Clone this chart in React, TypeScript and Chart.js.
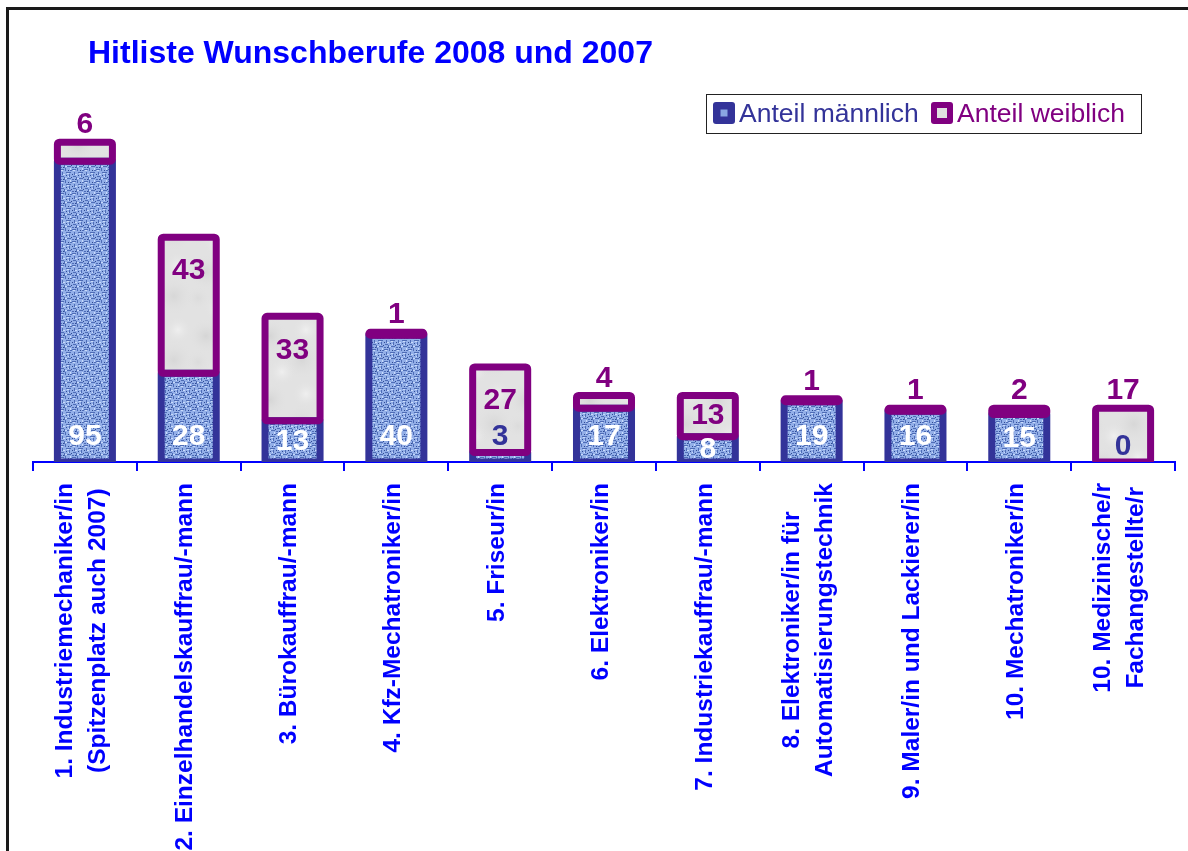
import React, { useEffect, useRef } from "react";
import { Chart, registerables } from "chart.js";

Chart.register(...registerables);

// ---------- data ----------
const chartTitle = "Hitliste Wunschberufe 2008 und 2007";
const seriesNames = ["Anteil männlich", "Anteil weiblich"];
const categories: (string | string[])[] = [
  ["1. Industriemechaniker/in", "(Spitzenplatz auch 2007)"],
  "2. Einzelhandelskauffrau/-mann",
  "3. Bürokauffrau/-mann",
  "4. Kfz-Mechatroniker/in",
  "5. Friseur/in",
  "6. Elektroniker/in",
  "7. Industriekauffrau/-mann",
  ["8. Elektroniker/in für", "Automatisierungstechnik"],
  "9. Maler/in und Lackierer/in",
  "10. Mechatroniker/in",
  ["10. Medizinische/r", "Fachangestellte/r"],
];
const maleValues = [95, 28, 13, 40, 3, 17, 8, 19, 16, 15, 0];
const femaleValues = [6, 43, 33, 1, 27, 4, 13, 1, 1, 2, 17];
const yMax = 120;

// ---------- styles ----------
const FONT = '"Liberation Sans", Arial, Helvetica, sans-serif';
const AXIS_BLUE = "#0000ff";
const MALE_DARK = "#333399";
const PURPLE = "#800080";
const BAR_BORDER = 7;

function makeMalePattern(): CanvasPattern | string {
  const c = document.createElement("canvas");
  c.width = 12;
  c.height = 12;
  const g = c.getContext("2d");
  if (!g) return "#8eaae6";
  g.fillStyle = "#93afe8";
  g.fillRect(0, 0, 12, 12);
  g.fillStyle = "#4e6cb6";
  g.fillRect(0, 1, 4, 1);
  g.fillRect(6, 4, 5, 1);
  g.fillRect(1, 8, 3, 1);
  g.fillRect(7, 10, 4, 1);
  g.fillRect(5, 0, 1, 3);
  g.fillRect(2, 4, 1, 3);
  g.fillRect(9, 6, 1, 3);
  g.fillRect(4, 9, 1, 3);
  g.fillRect(10, 2, 2, 1);
  g.fillRect(0, 11, 2, 1);
  g.fillStyle = "#c9dbfb";
  g.fillRect(1, 2, 2, 1);
  g.fillRect(7, 5, 2, 1);
  g.fillRect(10, 0, 1, 2);
  g.fillRect(5, 10, 2, 1);
  g.fillRect(3, 6, 2, 1);
  g.fillRect(8, 8, 1, 1);
  g.fillStyle = "#2f4a92";
  g.fillRect(8, 2, 1, 1);
  g.fillRect(0, 6, 1, 1);
  g.fillRect(6, 7, 1, 1);
  g.fillRect(11, 9, 1, 1);
  g.fillRect(3, 11, 1, 1);
  return g.createPattern(c, "repeat") || "#8eaae6";
}

function makeFemalePattern(): CanvasPattern | string {
  const c = document.createElement("canvas");
  c.width = 64;
  c.height = 64;
  const g = c.getContext("2d");
  if (!g) return "#e0e0e0";
  g.fillStyle = "#e2e2e2";
  g.fillRect(0, 0, 64, 64);
  const blobs: [number, number, number, string][] = [
    [14, 16, 18, "rgba(180,180,180,0.28)"],
    [46, 40, 20, "rgba(180,180,180,0.24)"],
    [26, 52, 14, "rgba(250,250,250,0.55)"],
    [50, 10, 14, "rgba(250,250,250,0.55)"],
    [6, 42, 12, "rgba(195,195,195,0.22)"],
  ];
  for (const [x, y, r, col] of blobs) {
    for (const dx of [-64, 0, 64]) {
      for (const dy of [-64, 0, 64]) {
        const grad = g.createRadialGradient(x + dx, y + dy, 0, x + dx, y + dy, r);
        grad.addColorStop(0, col);
        grad.addColorStop(1, "rgba(226,226,226,0)");
        g.fillStyle = grad;
        g.fillRect(0, 0, 64, 64);
      }
    }
  }
  return g.createPattern(c, "repeat") || "#e0e0e0";
}

const decorPlugin = {
  id: "decor",
  afterDatasetsDraw(chart: any) {
    const ctx: CanvasRenderingContext2D = chart.ctx;
    const area = chart.chartArea;
    const m0 = chart.getDatasetMeta(0);
    const m1 = chart.getDatasetMeta(1);
    ctx.save();
    ctx.beginPath();
    ctx.rect(0, 0, chart.width, area.bottom);
    ctx.clip();
    ctx.lineWidth = BAR_BORDER;
    ctx.lineJoin = "round";
    // male borders (centred on the bar edge)
    m0.data.forEach((el: any, i: number) => {
      if (maleValues[i] <= 0) return;
      const { x, y, base, width } = el.getProps(["x", "y", "base", "width"], true);
      ctx.strokeStyle = MALE_DARK;
      ctx.strokeRect(x - width / 2, y, width, base - y);
    });
    // female borders
    m1.data.forEach((el: any, i: number) => {
      if (femaleValues[i] <= 0) return;
      const { x, y, base, width } = el.getProps(["x", "y", "base", "width"], true);
      ctx.strokeStyle = PURPLE;
      ctx.beginPath();
      (ctx as any).roundRect(x - width / 2, y, width, base - y, 2);
      ctx.stroke();
    });
    ctx.restore();

    // value labels
    ctx.save();
    ctx.font = `bold 30px ${FONT}`;
    ctx.textAlign = "center";
    ctx.textBaseline = "middle";
    m0.data.forEach((el: any, i: number) => {
      const { x, y, base } = el.getProps(["x", "y", "base"], true);
      const v = maleValues[i];
      const ly = v === 0 ? base - 15 : v < 5 ? base - 25 : base - Math.min(25, (base - y) / 2);
      ctx.fillStyle = v < 5 ? MALE_DARK : "#ffffff";
      ctx.fillText(String(v), x, ly);
    });
    m1.data.forEach((el: any, i: number) => {
      const { x, y, base } = el.getProps(["x", "y", "base"], true);
      const inside = femaleValues[i] >= 10 && maleValues[i] > 0;
      const ly = inside ? y + Math.min(34, (base - y) / 2) : y - 17;
      ctx.fillStyle = PURPLE;
      ctx.fillText(String(femaleValues[i]), x, ly);
    });
    ctx.restore();
  },
  afterDraw(chart: any) {
    const ctx: CanvasRenderingContext2D = chart.ctx;
    const xScale = chart.scales.x;
    ctx.save();
    // category labels, rotated
    ctx.font = `bold 24.5px ${FONT}`;
    ctx.fillStyle = AXIS_BLUE;
    ctx.textBaseline = "middle";
    ctx.textAlign = "center";
    const topY = 483;
    const lineH = 33;
    categories.forEach((lab, i) => {
      const lines = Array.isArray(lab) ? lab : [lab];
      const px = xScale.getPixelForValue(i) - 3;
      const maxW = Math.max(...lines.map((l) => ctx.measureText(l).width));
      ctx.save();
      ctx.translate(px, topY);
      ctx.rotate(-Math.PI / 2);
      lines.forEach((l, j) => {
        const off = (j - (lines.length - 1) / 2) * lineH;
        ctx.fillText(l, -maxW / 2, off);
      });
      ctx.restore();
    });

    // title
    ctx.font = `bold 32px ${FONT}`;
    ctx.textAlign = "left";
    ctx.textBaseline = "alphabetic";
    ctx.fillStyle = AXIS_BLUE;
    ctx.fillText(chartTitle, 88, 63);

    // legend
    ctx.fillStyle = "#ffffff";
    ctx.fillRect(706, 94, 435, 39);
    ctx.strokeStyle = "#222222";
    ctx.lineWidth = 1;
    ctx.strokeRect(706.5, 94.5, 435, 39);
    const drawMarker = (x: number, outer: string, inner: string, s: number) => {
      ctx.fillStyle = outer;
      ctx.beginPath();
      (ctx as any).roundRect(x, 102, 22, 22, 3);
      ctx.fill();
      ctx.fillStyle = inner;
      ctx.fillRect(x + 11 - s / 2, 113 - s / 2, s, s);
    };
    drawMarker(713, MALE_DARK, "#8aa6e2", 7);
    drawMarker(931, PURPLE, "#e0e0e0", 10);
    ctx.font = `26.5px ${FONT}`;
    ctx.textBaseline = "middle";
    ctx.fillStyle = MALE_DARK;
    ctx.fillText(seriesNames[0], 739, 115);
    ctx.fillStyle = PURPLE;
    ctx.fillText(seriesNames[1], 957, 115);

    // outer frame (top and left edges visible)
    ctx.fillStyle = "#1a1a1a";
    ctx.fillRect(6, 7, 3, chart.height);
    ctx.fillRect(6, 7, chart.width, 3);
    ctx.restore();
  },
};

export default function App() {
  const ref = useRef<HTMLCanvasElement | null>(null);
  useEffect(() => {
    if (!ref.current) return;
    const chart = new Chart(ref.current, {
      type: "bar",
      data: {
        labels: categories as any,
        datasets: [
          {
            label: seriesNames[0],
            data: maleValues,
            backgroundColor: makeMalePattern() as any,
            borderWidth: 0,
            barPercentage: 0.53,
            categoryPercentage: 1,
          },
          {
            label: seriesNames[1],
            data: femaleValues,
            backgroundColor: makeFemalePattern() as any,
            borderWidth: 0,
            barPercentage: 0.53,
            categoryPercentage: 1,
          },
        ],
      },
      options: {
        responsive: false,
        animation: false,
        devicePixelRatio: 1,
        events: [],
        layout: { padding: { left: 33, right: 13, top: 82, bottom: 0 } },
        plugins: {
          legend: { display: false },
          title: { display: false },
          tooltip: { enabled: false },
        },
        scales: {
          x: {
            stacked: true,
            z: 1,
            grid: {
              offset: true,
              drawOnChartArea: false,
              drawTicks: true,
              tickLength: 9,
              color: AXIS_BLUE,
              lineWidth: 2,
            },
            border: { display: true, color: AXIS_BLUE, width: 2 },
            ticks: { display: false },
            afterFit: (scale: any) => {
              scale.height = 851 - 462;
            },
          },
          y: {
            stacked: true,
            display: false,
            min: 0,
            max: yMax,
          },
        },
      },
      plugins: [decorPlugin],
    });
    return () => chart.destroy();
  }, []);
  return (
    <canvas
      ref={ref}
      width={1188}
      height={851}
      style={{ position: "fixed", left: 0, top: 0, display: "block", background: "#ffffff" }}
    />
  );
}
